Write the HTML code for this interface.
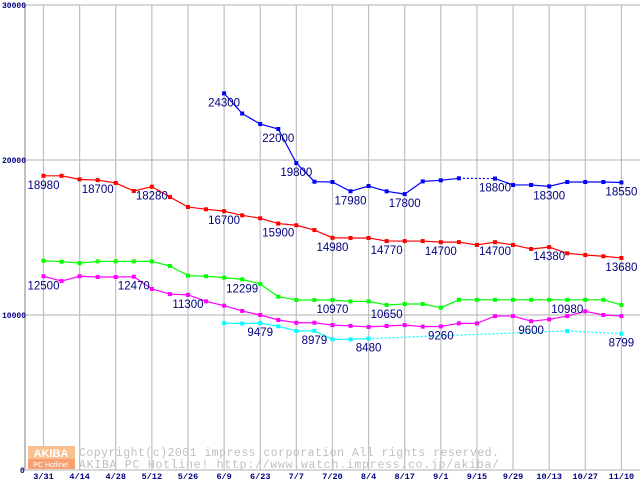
<!DOCTYPE html>
<html><head><meta charset="utf-8"><style>
body{margin:0;background:#fff;width:640px;height:480px;overflow:hidden}
svg{display:block}
</style></head><body>
<svg id="chart" width="640" height="480" xmlns="http://www.w3.org/2000/svg" font-family="Liberation Sans, sans-serif">
<g id="grid"></g>
<g id="wm">
  <rect x="28" y="446" width="47" height="13" fill="#f8c090"/>
  <text x="51" y="457" font-size="11" font-weight="bold" fill="#fff" text-anchor="middle" font-family="Liberation Sans, sans-serif">AKIBA</text>
  <rect x="28" y="459" width="47" height="10" fill="#f4a070"/>
  <text x="51" y="467" font-size="7" fill="#fff" text-anchor="middle">PC Hotline!</text>
  <text x="79" y="456" font-size="11.5" fill="#c0c0c0" font-family="Liberation Mono, monospace" textLength="420">Copyright(c)2001 impress corporation All rights reserved.</text>
  <text x="79" y="468" font-size="11.5" fill="#c0c0c0" font-family="Liberation Mono, monospace" textLength="420">AKIBA PC Hotline!  http://www.watch.impress.co.jp/akiba/</text>
</g>
<g id="series"></g>
</svg>
<script>
const xLabels=["3/31","4/14","4/28","5/12","5/26","6/9","6/23","7/7","7/20","8/4","8/17","9/1","9/15","9/29","10/13","10/27","11/10"];
const yTicks=[0,10000,20000,30000];
const redVals=[18980,18980,18750,18700,18520,18000,18280,17610,16970,16820,16700,16430,16240,15900,15790,15480,14980,14970,14970,14770,14770,14770,14700,14700,14520,14700,14520,14260,14380,13980,13870,13790,13680];
const blueVals=[null,null,null,null,null,null,null,null,null,null,24300,23000,22320,22000,19800,18600,18580,17980,18320,17980,17800,18620,18690,18820,null,18800,18390,18390,18300,18580,18580,18580,18550];
const greenVals=[13500,13440,13350,13460,13460,13460,13460,13160,12540,12500,12410,12299,12000,11180,10970,10970,10970,10880,10880,10650,10710,10710,10470,10980,10980,10980,10980,10980,10980,10980,10980,10980,10650];
const magentaVals=[12500,12190,12500,12450,12450,12470,11680,11350,11300,10880,10600,10260,10000,9680,9500,9500,9350,9300,9230,9290,9350,9250,9260,9460,9460,9930,9930,9600,9720,9930,10240,10000,9930];
const cyanVals=[null,null,null,null,null,null,null,null,null,null,9480,9450,9479,9270,8970,8979,8430,8430,8480,null,null,null,null,null,null,null,null,null,null,8970,null,null,8799];
const redLabels=[[0,"18980"],[3,"18700"],[6,"18280"],[10,"16700"],[13,"15900"],[16,"14980"],[19,"14770"],[22,"14700"],[25,"14700"],[28,"14380"],[32,"13680"]];
const blueLabels=[[10,"24300"],[13,"22000"],[14,"19800"],[17,"17980"],[20,"17800"],[25,"18800"],[28,"18300"],[32,"18550"]];
const greenLabels=[[11,"12299"],[16,"10970"],[19,"10650"],[29,"10980"]];
const magentaLabels=[[0,"12500"],[5,"12470"],[8,"11300"],[22,"9260"],[27,"9600"]];
const cyanLabels=[[12,"9479"],[15,"8979"],[18,"8480"],[32,"8799"]];

const NS="http://www.w3.org/2000/svg";
const X0=43.5, STEP=18.06, Y0=470, YS=15.5/1000;
function xs(i){return X0+i*STEP;}
function ys(v){return Y0-v*YS;}
function mk(tag,attrs,parent){const e=document.createElementNS(NS,tag);for(const k in attrs)e.setAttribute(k,attrs[k]);parent.appendChild(e);return e;}
const grid=document.getElementById('grid');
// frame
let f=mk('line',{x1:25,y1:5,x2:25,y2:470,stroke:'#c0c0c0','stroke-width':2},grid);


yTicks.forEach(v=>{
  const l=mk('line',{x1:25,y1:ys(v),x2:640,y2:ys(v),stroke:'#c0c0c0','stroke-width':1.2},grid);
  
  
  const t=mk('text',{x:v===0?20:2,y:ys(v)+3,'font-size':8,'font-weight':'bold',fill:'#000080','font-family':'Liberation Mono, monospace'},grid);
  t.textContent=String(v);
  
  
});
xLabels.forEach((s,k)=>{
  const x=xs(k*2);
  const l=mk('line',{x1:x,y1:5,x2:x,y2:470,stroke:'#c0c0c0','stroke-width':1.2},grid);
  
  
  const t=mk('text',{x:x,y:479,'font-size':8.5,'font-weight':'bold',fill:'#000080','text-anchor':'middle','font-family':'Liberation Mono, monospace'},grid);
  t.textContent=s;
  
  
});
const sg=document.getElementById('series');
function drawSeries(vals,color,name,labels){
  const g=mk('g',{},sg);
  
  
  let prev=null;
  vals.forEach((v,i)=>{
    if(v===null)return;
    if(prev!==null){
      const dashed=(i-prev>1);
      const l=mk('line',{x1:xs(prev),y1:ys(vals[prev]),x2:xs(i),y2:ys(v),stroke:color,'stroke-width':1.2},g);
      if(dashed)l.setAttribute('stroke-dasharray','2,2');
      
      
    }
    prev=i;
  });
  vals.forEach((v,i)=>{
    if(v===null)return;
    const r=mk('rect',{x:xs(i)-2,y:ys(v)-2,width:4,height:4,fill:color},g);
    
    
  });
  labels.forEach(([i,s])=>{
    const t=mk('text',{x:xs(i),y:ys(vals[i])+13,'font-size':11.5,fill:'#000080','text-anchor':'middle'},g);
    t.textContent=s;
    
    
  });
}
drawSeries(cyanVals,'#00ffff','cyan',cyanLabels);
drawSeries(magentaVals,'#ff00ff','magenta',magentaLabels);
drawSeries(greenVals,'#00ff00','green',greenLabels);
drawSeries(redVals,'#ff0000','red',redLabels);
drawSeries(blueVals,'#0000ff','blue',blueLabels);
</script>
</body></html>
